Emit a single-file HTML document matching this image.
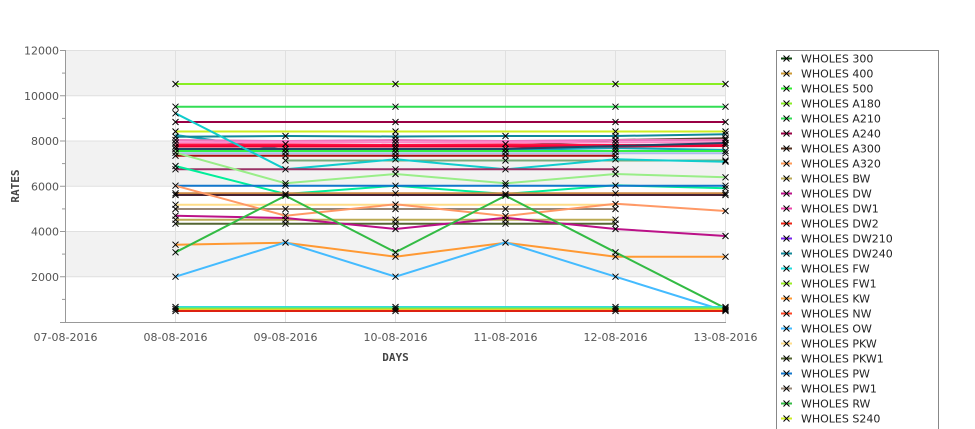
<!DOCTYPE html>
<html><head><meta charset="utf-8"><style>
html,body{margin:0;padding:0;background:#fff;}
svg{display:block;}
text{font-family:"DejaVu Sans","Liberation Sans",sans-serif;}
</style></head><body>
<svg width="975" height="429" viewBox="0 0 975 429" xmlns="http://www.w3.org/2000/svg">
<!-- bands -->
<rect x="65.5" y="50.5" width="660" height="45.25" fill="#f2f2f2"/>
<rect x="65.5" y="141" width="660" height="45.25" fill="#f2f2f2"/>
<rect x="65.5" y="231.5" width="660" height="45.25" fill="#f2f2f2"/>
<!-- grid -->
<g stroke="#e0e0e0" stroke-width="1">
<line x1="65" y1="50.5" x2="726" y2="50.5"/>
<line x1="65" y1="95.75" x2="726" y2="95.75"/>
<line x1="65" y1="141" x2="726" y2="141"/>
<line x1="65" y1="186.25" x2="726" y2="186.25"/>
<line x1="65" y1="231.5" x2="726" y2="231.5"/>
<line x1="65" y1="276.75" x2="726" y2="276.75"/>
<line x1="175.5" y1="50" x2="175.5" y2="322"/>
<line x1="285.5" y1="50" x2="285.5" y2="322"/>
<line x1="395.5" y1="50" x2="395.5" y2="322"/>
<line x1="505.5" y1="50" x2="505.5" y2="322"/>
<line x1="615.5" y1="50" x2="615.5" y2="322"/>
<line x1="725.5" y1="50" x2="725.5" y2="322"/>
</g>
<!-- axes -->
<g stroke="#999" stroke-width="1">
<line x1="65.5" y1="50" x2="65.5" y2="322.5"/>
<line x1="60" y1="322.5" x2="726" y2="322.5"/>
<line x1="60" y1="50.5" x2="65" y2="50.5"/>
<line x1="60" y1="95.75" x2="65" y2="95.75"/>
<line x1="60" y1="141" x2="65" y2="141"/>
<line x1="60" y1="186.25" x2="65" y2="186.25"/>
<line x1="60" y1="231.5" x2="65" y2="231.5"/>
<line x1="60" y1="276.75" x2="65" y2="276.75"/>
<line x1="62" y1="73.1" x2="65" y2="73.1"/>
<line x1="62" y1="118.4" x2="65" y2="118.4"/>
<line x1="62" y1="163.6" x2="65" y2="163.6"/>
<line x1="62" y1="208.9" x2="65" y2="208.9"/>
<line x1="62" y1="254.1" x2="65" y2="254.1"/>
<line x1="62" y1="299.4" x2="65" y2="299.4"/>
</g>
<g font-size="11" fill="#555" text-anchor="end">
<text x="59" y="54.5">12000</text>
<text x="59" y="99.8">10000</text>
<text x="59" y="145">8000</text>
<text x="59" y="190.3">6000</text>
<text x="59" y="235.5">4000</text>
<text x="59" y="280.8">2000</text>
</g>
<g font-size="11" fill="#555" text-anchor="middle">
<text x="65.5" y="341">07-08-2016</text>
<text x="175.5" y="341">08-08-2016</text>
<text x="285.5" y="341">09-08-2016</text>
<text x="395.5" y="341">10-08-2016</text>
<text x="505.5" y="341">11-08-2016</text>
<text x="615.5" y="341">12-08-2016</text>
<text x="725.5" y="341">13-08-2016</text>
</g>
<text x="395.5" y="361" font-size="11" font-weight="bold" fill="#444" text-anchor="middle" style="font-family:'DejaVu Sans Mono',monospace">DAYS</text>
<text transform="translate(19,186) rotate(-90)" font-size="11" font-weight="bold" fill="#444" text-anchor="middle" style="font-family:'DejaVu Sans Mono',monospace">RATES</text>

<!-- series -->
<g fill="none" stroke-width="2" stroke-linejoin="miter">
<polyline stroke="#88ee22" points="175.5,84 285.5,84 395.5,84 505.5,84 615.5,84 725.5,84"/>
<polyline stroke="#33dd55" points="175.5,106.7 285.5,106.7 395.5,106.7 505.5,106.7 615.5,106.7 725.5,106.7"/>
<polyline stroke="#990044" points="175.5,122 285.5,122 395.5,122 505.5,122 615.5,122 725.5,122"/>
<polyline stroke="#ccee22" points="175.5,131.5 285.5,131.5 395.5,131.5 505.5,131.5 615.5,131.5 725.5,131.5"/>
<polyline stroke="#11aabb" points="175.5,135 285.5,150 395.5,149 505.5,150 615.5,148 725.5,150"/>
<polyline stroke="#118899" points="175.5,136.7 285.5,136 395.5,136.5 505.5,136 615.5,136 725.5,134.3"/>
<polyline stroke="#664433" points="175.5,146 285.5,146 395.5,146 505.5,146 615.5,140 725.5,138.3"/>
<polyline stroke="#ee77bb" points="175.5,140 285.5,141 395.5,140 505.5,141 615.5,140 725.5,140"/>
<polyline stroke="#ff88cc" points="175.5,142.3 285.5,142.3 395.5,142.3 505.5,142.3 615.5,142.3 725.5,142.3"/>
<polyline stroke="#ff1144" points="175.5,144.5 285.5,144.5 395.5,145 505.5,144.5 615.5,145 725.5,145"/>
<polyline stroke="#ee0033" points="175.5,146.5 285.5,146.5 395.5,146.5 505.5,146.5 615.5,146.5 725.5,146"/>
<polyline stroke="#224466" points="175.5,149 285.5,149 395.5,149 505.5,149 615.5,146 725.5,143"/>
<polyline stroke="#33ee44" points="175.5,151 285.5,151 395.5,151 505.5,151 615.5,151 725.5,151"/>
<polyline stroke="#aabbee" points="175.5,153.3 285.5,153.3 395.5,153.3 505.5,153.3 615.5,153.3 725.5,153.3"/>
<polyline stroke="#aa1111" points="175.5,155.7 285.5,155.7 395.5,155.7 505.5,155.7 615.5,155.7"/>
<polyline stroke="#77aa77" points="285.5,160.5 395.5,160.5 505.5,160.5 615.5,160.5 725.5,160.5"/>
<polyline stroke="#11cccc" points="175.5,113.3 285.5,169.3 395.5,159.3 505.5,169.3 615.5,159.3 725.5,161.7"/>
<polyline stroke="#993366" points="175.5,169.3 285.5,169.3 395.5,169.3 505.5,169.3 615.5,169.3"/>
<polyline stroke="#99ee88" points="175.5,152.7 285.5,183.3 395.5,174 505.5,183.3 615.5,174 725.5,177.3"/>
<polyline stroke="#00ee99" points="175.5,166 285.5,194 395.5,185.7 505.5,194 615.5,185.3 725.5,188.3"/>
<polyline stroke="#1177cc" points="175.5,185.7 285.5,185.7 395.5,185.7 505.5,185.7 615.5,185.7 725.5,185.7"/>
<polyline stroke="#cc8844" points="175.5,193.3 285.5,193.3 395.5,193.3 505.5,193.3 615.5,193.3 725.5,193.3"/>
<polyline stroke="#442233" points="175.5,195 285.5,195 395.5,195 505.5,195 615.5,195 725.5,195"/>
<polyline stroke="#ffdd88" points="175.5,204.7 285.5,204.7 395.5,204.7 505.5,204.7 615.5,204.7"/>
<polyline stroke="#998877" points="175.5,209 285.5,209 395.5,209 505.5,209 615.5,209"/>
<polyline stroke="#ff9966" points="175.5,185.7 285.5,215.7 395.5,204.3 505.5,216 615.5,203.7 725.5,211"/>
<polyline stroke="#bbaa55" points="175.5,219.7 285.5,219.7 395.5,219.7 505.5,219.7 615.5,219.7"/>
<polyline stroke="#556633" points="175.5,223.7 285.5,223.7 395.5,223.7 505.5,223.7 615.5,223.7"/>
<polyline stroke="#bb1188" points="175.5,215.7 285.5,218 395.5,229 505.5,217.7 615.5,229 725.5,236"/>
<polyline stroke="#ff9933" points="175.5,244.7 285.5,242.7 395.5,256.7 505.5,242.7 615.5,256.7 725.5,256.7"/>
<polyline stroke="#33bb44" points="175.5,252.3 285.5,195.7 395.5,252.3 505.5,195.7 615.5,252.3 725.5,308.3"/>
<polyline stroke="#44bbff" points="175.5,276.7 285.5,242.3 395.5,276.7 505.5,242.3 615.5,276.7 725.5,311"/>
<polyline stroke="#33dddd" points="175.5,307 725.5,307"/>
<polyline stroke="#77ee44" points="175.5,308.5 725.5,308.5"/>
<polyline stroke="#eecc22" points="175.5,309.8 725.5,309.8"/>
<polyline stroke="#dd2211" points="175.5,311 725.5,311"/>
</g>

<!-- markers -->
<defs><path id="m" d="M-3,-3 L3,3 M-3,3 L3,-3" stroke="#000" stroke-width="1" fill="none"/></defs>
<g>
<!-- 08-08 -->
<g transform="translate(175.5,0)">
<use href="#m" y="84"/><use href="#m" y="106.7"/><use href="#m" y="113.3"/><use href="#m" y="122"/><use href="#m" y="131.5"/><use href="#m" y="136.7"/><use href="#m" y="140"/><use href="#m" y="143"/><use href="#m" y="146.5"/><use href="#m" y="149"/><use href="#m" y="152.7"/><use href="#m" y="155.7"/><use href="#m" y="166"/><use href="#m" y="169.3"/><use href="#m" y="185.7"/><use href="#m" y="193.3"/><use href="#m" y="195"/><use href="#m" y="204.7"/><use href="#m" y="209"/><use href="#m" y="215.7"/><use href="#m" y="219.7"/><use href="#m" y="223.7"/><use href="#m" y="244.7"/><use href="#m" y="252.3"/><use href="#m" y="276.7"/><use href="#m" y="307"/><use href="#m" y="309"/><use href="#m" y="311"/>
</g>
<!-- 09-08 -->
<g transform="translate(285.5,0)">
<use href="#m" y="136"/><use href="#m" y="144"/><use href="#m" y="149"/><use href="#m" y="152"/><use href="#m" y="155.7"/><use href="#m" y="160.5"/><use href="#m" y="169.3"/><use href="#m" y="183.3"/><use href="#m" y="185.7"/><use href="#m" y="194"/><use href="#m" y="195.7"/><use href="#m" y="209"/><use href="#m" y="215.7"/><use href="#m" y="219.7"/><use href="#m" y="223.7"/><use href="#m" y="242.5"/>
</g>
<!-- 10-08 -->
<g transform="translate(395.5,0)">
<use href="#m" y="84"/><use href="#m" y="106.7"/><use href="#m" y="122"/><use href="#m" y="131.5"/><use href="#m" y="136.5"/><use href="#m" y="140"/><use href="#m" y="143"/><use href="#m" y="146.5"/><use href="#m" y="149"/><use href="#m" y="152"/><use href="#m" y="155.7"/><use href="#m" y="159.3"/><use href="#m" y="169.3"/><use href="#m" y="174"/><use href="#m" y="185.7"/><use href="#m" y="193.3"/><use href="#m" y="204.5"/><use href="#m" y="209"/><use href="#m" y="219.7"/><use href="#m" y="223.7"/><use href="#m" y="229"/><use href="#m" y="252.3"/><use href="#m" y="256.7"/><use href="#m" y="276.7"/><use href="#m" y="307"/><use href="#m" y="309"/><use href="#m" y="311"/>
</g>
<!-- 11-08 -->
<g transform="translate(505.5,0)">
<use href="#m" y="136"/><use href="#m" y="144"/><use href="#m" y="149"/><use href="#m" y="152"/><use href="#m" y="155.7"/><use href="#m" y="160.5"/><use href="#m" y="169.3"/><use href="#m" y="183.3"/><use href="#m" y="185.7"/><use href="#m" y="194"/><use href="#m" y="195.7"/><use href="#m" y="209"/><use href="#m" y="216"/><use href="#m" y="219.7"/><use href="#m" y="223.7"/><use href="#m" y="242.5"/>
</g>
<!-- 12-08 -->
<g transform="translate(615.5,0)">
<use href="#m" y="84"/><use href="#m" y="106.7"/><use href="#m" y="122"/><use href="#m" y="131.5"/><use href="#m" y="136"/><use href="#m" y="140"/><use href="#m" y="143"/><use href="#m" y="146.5"/><use href="#m" y="149"/><use href="#m" y="152"/><use href="#m" y="155.7"/><use href="#m" y="159.3"/><use href="#m" y="169.3"/><use href="#m" y="174"/><use href="#m" y="185.5"/><use href="#m" y="193.3"/><use href="#m" y="204"/><use href="#m" y="209"/><use href="#m" y="219.7"/><use href="#m" y="223.7"/><use href="#m" y="229"/><use href="#m" y="252.3"/><use href="#m" y="256.7"/><use href="#m" y="276.7"/><use href="#m" y="307"/><use href="#m" y="309"/><use href="#m" y="311"/>
</g>
<!-- 13-08 -->
<g transform="translate(725.5,0)">
<use href="#m" y="84"/><use href="#m" y="106.7"/><use href="#m" y="122"/><use href="#m" y="131.5"/><use href="#m" y="134.3"/><use href="#m" y="138.3"/><use href="#m" y="140"/><use href="#m" y="143"/><use href="#m" y="145"/><use href="#m" y="151"/><use href="#m" y="153.3"/><use href="#m" y="160.5"/><use href="#m" y="161.7"/><use href="#m" y="177.3"/><use href="#m" y="185.7"/><use href="#m" y="188.3"/><use href="#m" y="193.3"/><use href="#m" y="195"/><use href="#m" y="211"/><use href="#m" y="236"/><use href="#m" y="256.7"/><use href="#m" y="307"/><use href="#m" y="308.5"/><use href="#m" y="310"/><use href="#m" y="311"/>
</g>
</g>

<!-- legend -->
<rect x="776.5" y="50.5" width="162" height="390" fill="#fff" stroke="#888" stroke-width="1"/>
<g stroke-width="2">
<line x1="781" x2="792" y1="58.5" y2="58.5" stroke="#114411"/>
<line x1="781" x2="792" y1="73.5" y2="73.5" stroke="#cc9933"/>
<line x1="781" x2="792" y1="88.5" y2="88.5" stroke="#33ee33"/>
<line x1="781" x2="792" y1="103.5" y2="103.5" stroke="#88ee22"/>
<line x1="781" x2="792" y1="118.5" y2="118.5" stroke="#33dd55"/>
<line x1="781" x2="792" y1="133.5" y2="133.5" stroke="#990044"/>
<line x1="781" x2="792" y1="148.5" y2="148.5" stroke="#553322"/>
<line x1="781" x2="792" y1="163.5" y2="163.5" stroke="#ff9955"/>
<line x1="781" x2="792" y1="178.5" y2="178.5" stroke="#bbaa55"/>
<line x1="781" x2="792" y1="193.5" y2="193.5" stroke="#bb1188"/>
<line x1="781" x2="792" y1="208.5" y2="208.5" stroke="#ee44aa"/>
<line x1="781" x2="792" y1="223.5" y2="223.5" stroke="#ee2211"/>
<line x1="781" x2="792" y1="238.5" y2="238.5" stroke="#7722ee"/>
<line x1="781" x2="792" y1="253.5" y2="253.5" stroke="#118899"/>
<line x1="781" x2="792" y1="268.5" y2="268.5" stroke="#22dddd"/>
<line x1="781" x2="792" y1="283.5" y2="283.5" stroke="#99ee22"/>
<line x1="781" x2="792" y1="298.5" y2="298.5" stroke="#ff9933"/>
<line x1="781" x2="792" y1="313.5" y2="313.5" stroke="#ff4422"/>
<line x1="781" x2="792" y1="328.5" y2="328.5" stroke="#44bbff"/>
<line x1="781" x2="792" y1="343.5" y2="343.5" stroke="#ffdd88"/>
<line x1="781" x2="792" y1="358.5" y2="358.5" stroke="#556633"/>
<line x1="781" x2="792" y1="373.5" y2="373.5" stroke="#1177cc"/>
<line x1="781" x2="792" y1="388.5" y2="388.5" stroke="#998877"/>
<line x1="781" x2="792" y1="403.5" y2="403.5" stroke="#33bb44"/>
<line x1="781" x2="792" y1="418.5" y2="418.5" stroke="#ccee22"/>
</g>
<g transform="translate(786.5,0)">
<use href="#m" y="58.5"/><use href="#m" y="73.5"/><use href="#m" y="88.5"/><use href="#m" y="103.5"/><use href="#m" y="118.5"/><use href="#m" y="133.5"/><use href="#m" y="148.5"/><use href="#m" y="163.5"/><use href="#m" y="178.5"/><use href="#m" y="193.5"/><use href="#m" y="208.5"/><use href="#m" y="223.5"/><use href="#m" y="238.5"/><use href="#m" y="253.5"/><use href="#m" y="268.5"/><use href="#m" y="283.5"/><use href="#m" y="298.5"/><use href="#m" y="313.5"/><use href="#m" y="328.5"/><use href="#m" y="343.5"/><use href="#m" y="358.5"/><use href="#m" y="373.5"/><use href="#m" y="388.5"/><use href="#m" y="403.5"/><use href="#m" y="418.5"/>
</g>
<g font-size="11" fill="#222">
<text x="801" y="62.5">WHOLES 300</text>
<text x="801" y="77.5">WHOLES 400</text>
<text x="801" y="92.5">WHOLES 500</text>
<text x="801" y="107.5">WHOLES A180</text>
<text x="801" y="122.5">WHOLES A210</text>
<text x="801" y="137.5">WHOLES A240</text>
<text x="801" y="152.5">WHOLES A300</text>
<text x="801" y="167.5">WHOLES A320</text>
<text x="801" y="182.5">WHOLES BW</text>
<text x="801" y="197.5">WHOLES DW</text>
<text x="801" y="212.5">WHOLES DW1</text>
<text x="801" y="227.5">WHOLES DW2</text>
<text x="801" y="242.5">WHOLES DW210</text>
<text x="801" y="257.5">WHOLES DW240</text>
<text x="801" y="272.5">WHOLES FW</text>
<text x="801" y="287.5">WHOLES FW1</text>
<text x="801" y="302.5">WHOLES KW</text>
<text x="801" y="317.5">WHOLES NW</text>
<text x="801" y="332.5">WHOLES OW</text>
<text x="801" y="347.5">WHOLES PKW</text>
<text x="801" y="362.5">WHOLES PKW1</text>
<text x="801" y="377.5">WHOLES PW</text>
<text x="801" y="392.5">WHOLES PW1</text>
<text x="801" y="407.5">WHOLES RW</text>
<text x="801" y="422.5">WHOLES S240</text>
</g>
</svg>
</body></html>
